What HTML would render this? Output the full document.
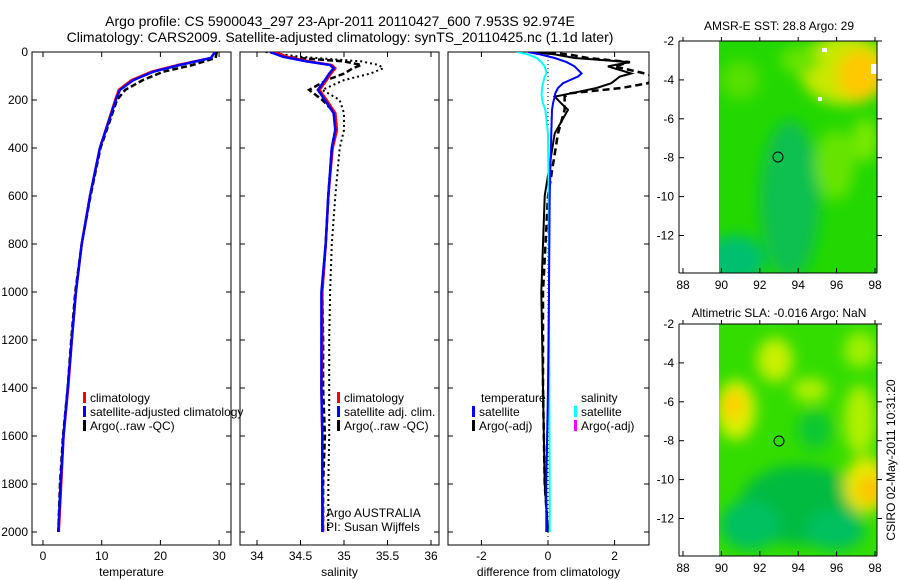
<!DOCTYPE html>
<html><head><meta charset="utf-8"><style>
body{margin:0;background:#fff;}
svg{display:block;font-family:"Liberation Sans",sans-serif;}
text{font-size:12px;fill:#000;}
</style></head><body>
<svg id="chart" width="900" height="580" viewBox="0 0 900 580">
<defs>
<filter id="bl" x="-50%" y="-50%" width="200%" height="200%"><feGaussianBlur stdDeviation="7"/></filter>
<clipPath id="c1"><rect x="32" y="52" width="199" height="493"/></clipPath>
<clipPath id="c2"><rect x="240" y="52" width="199" height="493"/></clipPath>
<clipPath id="c3"><rect x="448" y="52" width="201" height="493"/></clipPath>
<clipPath id="m1"><rect x="719" y="41" width="158" height="232"/></clipPath>
<clipPath id="m2"><rect x="719" y="324" width="158" height="232"/></clipPath>
</defs>
<text x="340" y="26" text-anchor="middle" style="font-size:14px">Argo profile: CS 5900043_297 23-Apr-2011 20110427_600 7.953S 92.974E</text>
<text x="340" y="42" text-anchor="middle" style="font-size:14px">Climatology: CARS2009. Satellite-adjusted climatology: synTS_20110425.nc (1.1d later)</text>
<g id="p1"></g>
<g id="p2"></g>
<g id="p3"></g>

<g>
<text x="779" y="30" text-anchor="middle">AMSR-E SST: 28.8 Argo: 29</text>
<g clip-path="url(#m1)">
<rect x="719" y="41" width="158" height="232" fill="#22d800"/>
<g filter="url(#bl)">
<ellipse cx="790" cy="200" rx="30" ry="80" fill="#10c050"/>
<ellipse cx="735" cy="260" rx="30" ry="25" fill="#00c070"/>
<ellipse cx="845" cy="70" rx="45" ry="35" fill="#c8e800"/>
<ellipse cx="860" cy="75" rx="22" ry="25" fill="#ffc800"/>
<ellipse cx="835" cy="165" rx="20" ry="35" fill="#66e400"/>
<ellipse cx="865" cy="140" rx="14" ry="22" fill="#77e800"/>
<ellipse cx="740" cy="80" rx="20" ry="20" fill="#55e000"/>
<ellipse cx="800" cy="60" rx="20" ry="14" fill="#66e400"/>
</g>
<rect x="822" y="48" width="5" height="4" fill="#fff"/>
<rect x="871" y="64" width="6" height="10" fill="#fff"/>
<rect x="818" y="97" width="4" height="4" fill="#fff"/>
</g>
<circle cx="778" cy="157" r="5" fill="none" stroke="#000"/>
</g>
<g>
<text x="779" y="317" text-anchor="middle">Altimetric SLA: -0.016 Argo: NaN</text>
<g clip-path="url(#m2)">
<rect x="719" y="324" width="158" height="232" fill="#33dd00"/>
<g filter="url(#bl)">
<ellipse cx="800" cy="505" rx="60" ry="40" fill="#00bb40"/>
<ellipse cx="750" cy="525" rx="30" ry="25" fill="#00c060"/>
<ellipse cx="835" cy="530" rx="30" ry="20" fill="#00c060"/>
<ellipse cx="736" cy="410" rx="20" ry="30" fill="#d8f000"/>
<ellipse cx="733" cy="405" rx="12" ry="14" fill="#ffd000"/>
<ellipse cx="866" cy="485" rx="22" ry="28" fill="#e8e800"/>
<ellipse cx="870" cy="490" rx="12" ry="14" fill="#ffc000"/>
<ellipse cx="775" cy="360" rx="18" ry="22" fill="#c8f000"/>
<ellipse cx="810" cy="390" rx="18" ry="12" fill="#b0f000"/>
<ellipse cx="860" cy="350" rx="16" ry="18" fill="#a0f000"/>
<ellipse cx="860" cy="420" rx="16" ry="35" fill="#b0f000"/>
<ellipse cx="815" cy="430" rx="18" ry="20" fill="#10c830"/>
</g>
</g>
<circle cx="779" cy="441" r="5" fill="none" stroke="#000"/>
<text transform="translate(895,460) rotate(-90)" text-anchor="middle">CSIRO 02-May-2011 10:31:20</text>
</g>
<g id="maxes"></g>
</svg>
<script>
// Temperature profiles
const tDepth = [0, 25, 54, 82, 117, 158, 200, 400, 600, 800, 1000, 1200, 1400, 1600, 1800, 2000];
const tClim  = [29.3, 28.6, 23.0, 18.5, 15.1, 12.9, 12.3, 9.7, 8.0, 6.6, 5.6, 4.9, 4.3, 3.5, 3.1, 2.7];
const tSat   = [29.3, 28.6, 23.3, 18.8, 15.4, 13.1, 12.4, 9.7, 8.0, 6.6, 5.6, 4.9, 4.2, 3.5, 3.0, 2.6];
const tArgo  = [29.6, 29.4, 25.5, 20.5, 17.0, 14.0, 12.6, 9.8, 8.1, 6.6, 5.5, 4.8, 4.2, 3.4, 2.9, 2.6];
// Salinity profiles
const sDepth = [0, 20, 39, 54, 68, 90, 117, 158, 200, 255, 325, 400, 600, 800, 1000, 1200, 1400, 1600, 1800, 2000];
const sClim  = [34.2, 34.35, 34.6, 34.86, 34.9, 34.85, 34.8, 34.72, 34.8, 34.9, 34.92, 34.87, 34.82, 34.79, 34.75, 34.75, 34.74, 34.75, 34.75, 34.76];
const sSat   = [34.15, 34.3, 34.57, 34.84, 34.88, 34.83, 34.78, 34.70, 34.78, 34.88, 34.9, 34.86, 34.82, 34.79, 34.74, 34.74, 34.74, 34.75, 34.75, 34.75];
const sArgo  = [34.2, 34.3, 35.0, 35.2, 35.1, 35.0, 34.8, 34.6, 34.75, 34.9, 34.9, 34.86, 34.82, 34.79, 34.75, 34.76, 34.76, 34.78, 34.76, 34.76];
const sArgoRaw=[34.1, 34.5, 35.2, 35.4, 35.45, 35.3, 35.0, 34.75, 34.95, 35.0, 35.0, 34.95, 34.9, 34.86, 34.84, 34.83, 34.83, 34.83, 34.82, 34.82];
// Differences from climatology
const dDepth = [0, 10, 25, 42, 60, 89, 102, 130, 150, 172, 186, 214, 241, 339, 600, 1000, 1400, 1800, 2000];
const dTSat  = [-0.6, -0.24, 0.2, 0.56, 0.8, 1.01, 0.9, 0.45, 0.3, 0.22, 0.2, 0.15, 0.12, 0.1, 0.05, 0.03, 0.0, -0.05, -0.05];
const dSSat  = [-0.94, -0.6, -0.34, -0.2, -0.1, -0.04, -0.1, -0.15, -0.18, -0.19, -0.19, -0.15, -0.08, 0.0, 0.02, 0.03, 0.04, 0.05, 0.05];
const dTArgo = [-0.5, 0.2, 0.8, 2.46, 1.8, 2.5, 2.16, 1.9, 1.46, 0.7, 0.2, 0.4, 0.6, 0.2, -0.1, -0.2, -0.15, -0.1, 0.0];
const dTArgoD= [-0.3, 0.6, 1.2, 2.46, 2.0, 2.9, 3.2, 3.0, 2.2, 0.66, 0.5, 0.5, 0.5, 0.3, 0.0, -0.15, -0.15, -0.1, 0.0];
// Ticks
const depthTicks = [0, 200, 400, 600, 800, 1000, 1200, 1400, 1600, 1800, 2000];
const tTicks = [0, 10, 20, 30];
const sTicks = [34, 34.5, 35, 35.5, 36];
const dTicks = [-2, 0, 2];
const latTicks = [-2, -4, -6, -8, -10, -12];
const lonTicks = [88, 90, 92, 94, 96, 98];

const NS = 'http://www.w3.org/2000/svg';
const yD = d => 52 + d * 0.24;
const xT = v => 43 + v * 5.87;
const xS = v => 257 + (v - 34) * 87;
const xDf = v => 548 + v * 33.3;

function mk(tag, attrs, parent) {
  const e = document.createElementNS(NS, tag);
  for (const k in attrs) e.setAttribute(k, attrs[k]);
  parent.appendChild(e);
  return e;
}
function line(parent, xs, ds, sx, col, w, dash, clip, name) {
  const pts = xs.map((v, i) => sx(v).toFixed(1) + ',' + yD(ds[i]).toFixed(1)).join(' ');
  const p = mk('polyline', {points: pts, fill: 'none', stroke: col, 'stroke-width': w, 'clip-path': 'url(#' + clip + ')'}, parent);
  if (dash) p.setAttribute('stroke-dasharray', dash);
  
  
}
function panel(g, x0, x1, ticks, sx, xlabel, showY) {
  const b = mk('rect', {x: x0, y: 52, width: x1 - x0, height: 493, fill: 'none', stroke: '#000'}, g);
  
  
  ticks.forEach(v => {
    const x = sx(v);
    mk('line', {x1: x, x2: x, y1: 545, y2: 540, stroke: '#000'}, g);
    mk('line', {x1: x, x2: x, y1: 52, y2: 57, stroke: '#000'}, g);
    const t = mk('text', {x: x, y: 560, 'text-anchor': 'middle'}, g);
    t.textContent = String(v);
    
    
  });
  depthTicks.forEach(d => {
    mk('line', {x1: x0, x2: x0 + 5, y1: yD(d), y2: yD(d), stroke: '#000'}, g);
    mk('line', {x1: x1, x2: x1 - 5, y1: yD(d), y2: yD(d), stroke: '#000'}, g);
    if (showY) {
      const t = mk('text', {x: x0 - 4, y: yD(d) + 4, 'text-anchor': 'end'}, g);
      t.textContent = String(d);
      
      
    }
  });
  const xl = mk('text', {x: (x0 + x1) / 2, y: 576, 'text-anchor': 'middle'}, g);
  xl.textContent = xlabel;
  
  
}
function legend(g, x, y, col, label) {
  const r = mk('rect', {x: x, y: y - 10, width: 3, height: 11, fill: col}, g);
  
  
  const t = mk('text', {x: x + 7, y: y}, g);
  t.textContent = label;
  
  
}
function txt(g, x, y, s, name) {
  const t = mk('text', {x: x, y: y}, g);
  t.textContent = s;
  
  
}

const p1 = document.getElementById('p1');
panel(p1, 32, 231, tTicks, xT, 'temperature', true);
line(p1, tArgo, tDepth, xT, '#000', 2.5, '6,3', 'c1', 'temp-argo-line');
line(p1, tClim, tDepth, xT, '#f00', 2.5, null, 'c1', 'temp-climatology-line');
line(p1, tSat, tDepth, xT, '#00f', 2.5, null, 'c1', 'temp-satellite-line');
legend(p1, 83, 402, '#f00', 'climatology');
legend(p1, 83, 416, '#00f', 'satellite-adjusted climatology');
legend(p1, 83, 430, '#000', 'Argo(..raw -QC)');

const p2 = document.getElementById('p2');
panel(p2, 240, 439, sTicks, xS, 'salinity', false);
line(p2, sArgoRaw, sDepth, xS, '#000', 2, '2,3', 'c2', 'sal-argo-raw-line');
line(p2, sArgo, sDepth, xS, '#000', 2.5, '6,3', 'c2', 'sal-argo-line');
line(p2, sClim, sDepth, xS, '#f00', 2.5, null, 'c2', 'sal-climatology-line');
line(p2, sSat, sDepth, xS, '#00f', 2.5, null, 'c2', 'sal-satellite-line');
legend(p2, 337, 402, '#f00', 'climatology');
legend(p2, 337, 416, '#00f', 'satellite adj. clim.');
legend(p2, 337, 430, '#000', 'Argo(..raw -QC)');
txt(p2, 326, 517, 'Argo AUSTRALIA', 'argo-credit');
txt(p2, 326, 531, 'PI: Susan Wijffels', 'pi-credit');

const p3 = document.getElementById('p3');
panel(p3, 448, 649, dTicks, xDf, 'difference from climatology', false);
const z = mk('line', {x1: 548, x2: 548, y1: 52, y2: 545, stroke: '#000', 'stroke-dasharray': '1,3'}, p3);


line(p3, dTArgoD, dDepth, xDf, '#000', 2.5, '7,4', 'c3', 'diff-temp-argo-dashed-line');
line(p3, dTArgo, dDepth, xDf, '#000', 2, null, 'c3', 'diff-temp-argo-line');
line(p3, dSSat, dDepth, xDf, '#0ff', 2, null, 'c3', 'diff-sal-satellite-line');
line(p3, dTSat, dDepth, xDf, '#00f', 2, null, 'c3', 'diff-temp-satellite-line');
txt(p3, 481, 402, 'temperature', 'legend-title-temperature');
txt(p3, 581, 402, 'salinity', 'legend-title-salinity');
legend(p3, 472, 416, '#00f', 'satellite');
legend(p3, 472, 430, '#000', 'Argo(-adj)');
legend(p3, 574, 416, '#0ff', 'satellite');
legend(p3, 574, 430, '#f0f', 'Argo(-adj)');

// Map axes
const ma = document.getElementById('maxes');
[[41, 273], [324, 556]].forEach(([top, bot], mi) => {
  const yl = v => top + (-2 - v) * 19.45;
  const xl = v => 683 + (v - 88) * 19.2;
  mk('line', {x1: 679, x2: 877, y1: bot, y2: bot, stroke: '#000'}, ma);
  mk('line', {x1: 679, x2: 679, y1: top, y2: bot, stroke: '#000'}, ma);
  mk('line', {x1: 877, x2: 877, y1: top, y2: bot, stroke: '#000'}, ma);
  mk('line', {x1: 679, x2: 877, y1: top, y2: top, stroke: '#000'}, ma);
  latTicks.forEach(v => {
    mk('line', {x1: 679, x2: 684, y1: yl(v), y2: yl(v), stroke: '#000'}, ma);
    mk('line', {x1: 877, x2: 882, y1: yl(v), y2: yl(v), stroke: '#000'}, ma);
    const t = mk('text', {x: 674, y: yl(v) + 4, 'text-anchor': 'end'}, ma);
    t.textContent = String(v);
    
    
  });
  lonTicks.forEach(v => {
    mk('line', {x1: xl(v), x2: xl(v), y1: bot, y2: bot - 5, stroke: '#000'}, ma);
    mk('line', {x1: xl(v), x2: xl(v), y1: top, y2: top - 4, stroke: '#000'}, ma);
    const t = mk('text', {x: xl(v), y: bot + 16, 'text-anchor': 'middle'}, ma);
    t.textContent = String(v);
    
    
  });
});
</script>
</body></html>
